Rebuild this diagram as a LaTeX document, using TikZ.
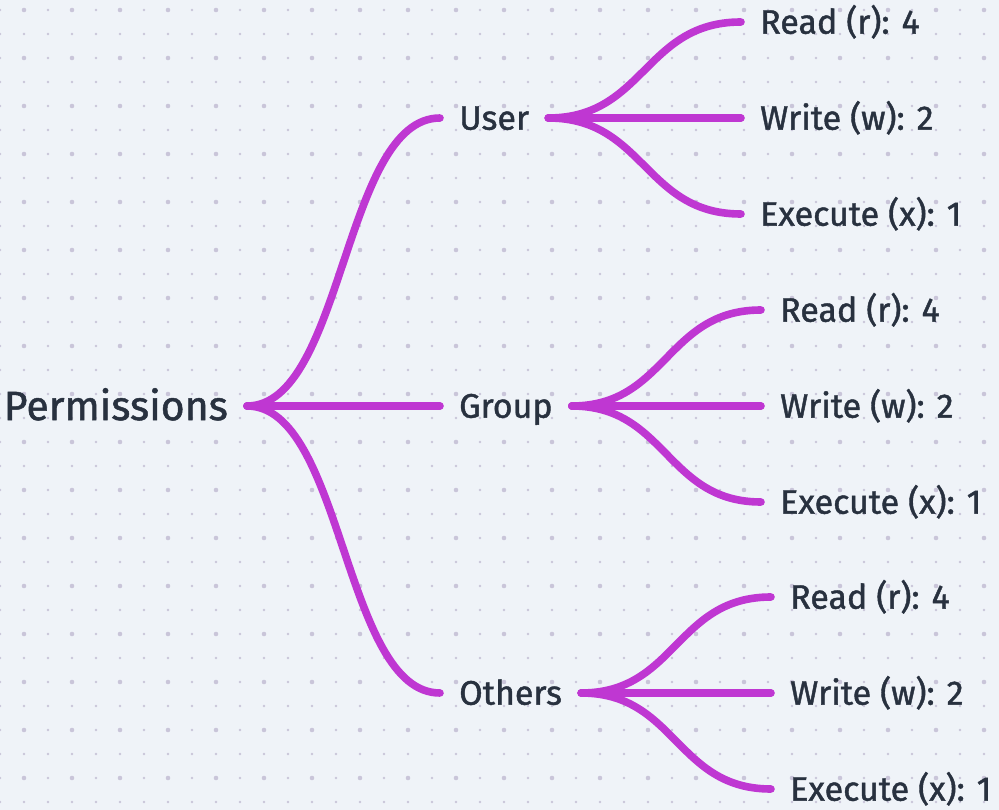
\documentclass[tikz,border=0pt]{standalone}
\usepackage{fontspec}
\setmainfont{Fira Sans}[FakeBold=1.2]
\usetikzlibrary{calc}

\definecolor{bgcol}{HTML}{EFF3F8}
\definecolor{dotcol}{HTML}{C9C5D9}
\definecolor{linkcol}{HTML}{BF37D2}
\definecolor{txtcol}{HTML}{28313F}

\begin{document}
\begin{tikzpicture}[x=1pt,y=-1pt,line cap=round]
    \tikzstyle{topic}=[text=txtcol,font=\fontsize{34}{38}\selectfont,inner xsep=19pt,inner ysep=0pt,text height=23.4pt,text depth=0pt]
    \tikzstyle{link}=[draw=linkcol,line width=7.6pt,
        to path={let \p1=(\tikztostart), \p2=(\tikztotarget) in
            .. controls ({(\x1+\x2)/2},\y1) and ({(\x1+\x2)/2},\y2) .. (\tikztotarget)}]

    % background with dot grid
    \fill[bgcol] (0,0) rectangle (999,810);
    \useasboundingbox (0,0) rectangle (999,810);
    \foreach \x in {0,24,...,996}
        \foreach \y in {10,34,...,802}
            \fill[dotcol] (\x,\y) circle (1.3pt);
    \foreach \x in {24,72,...,984}
        \foreach \y in {10,58,...,778}
            \fill[dotcol] (\x,\y) circle (2.3pt);

    \node[topic,anchor=east,font=\fontsize{41}{45}\selectfont,text height=28.2pt] (perm) at (247,406) {Permissions};

    \foreach \branch/\name/\y in {user/User/118, group/Group/406, others/Others/693}
    {
        \node[topic,anchor=west] (\branch) at (440,\y) {\name};
        \draw[link] (perm.east) to (\branch.west);
    }

    \foreach \branch/\px/\py in {user/741/118, group/761/406, others/771/693}
        \foreach \bit/\dy/\txt in {r/-96/Read (r): 4, w/0/Write (w): 2, x/96/Execute (x): 1}
        {
            \node[topic,anchor=west] (\branch-\bit) at (\px,\py+\dy) {\txt};
            \draw[link] (\branch.east) to (\branch-\bit.west);
        }
\end{tikzpicture}
\end{document}
